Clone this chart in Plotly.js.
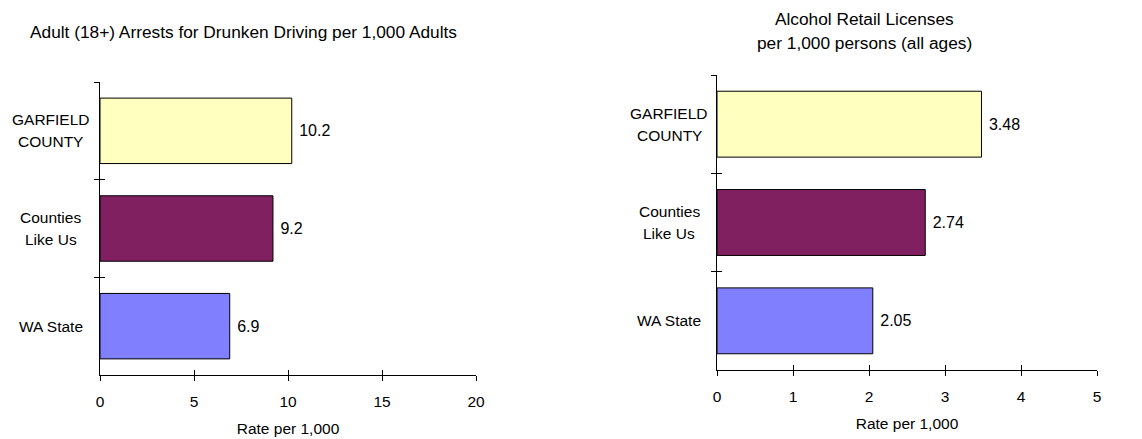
<!DOCTYPE html>
<html>
<head>
<meta charset="utf-8">
<script src="https://cdn.plot.ly/plotly-3.0.1.min.js"></script>
<style>html,body{margin:0;padding:0;background:#fff;}#chart{width:1142px;height:439px;}</style>
</head>
<body>
<div id="chart"></div>
<script>
// ---- data ----
const categories = ['GARFIELD COUNTY', 'Counties Like Us', 'WA State'];
const categoryLabels = [['GARFIELD', 'COUNTY'], ['Counties', 'Like Us'], ['WA State']];
const arrestRates = [10.2, 9.2, 6.9];
const licenseRates = [3.48, 2.74, 2.05];
const barColors = ['#FFFFC0', '#802060', '#8080FF'];
const leftTicks = [0, 5, 10, 15, 20];
const rightTicks = [0, 1, 2, 3, 4, 5];
const leftTitle = ['Adult (18+) Arrests for Drunken Driving per 1,000 Adults'];
const rightTitle = ['Alcohol Retail Licenses', 'per 1,000 persons (all ages)'];
const xTitleText = 'Rate per 1,000';

// ---- layout helpers ----
const W = 1142, H = 439;
const FONT = 'Liberation Sans, Arial, sans-serif';
const px = v => v / W;
const py = v => 1 - v / H;
const nCat = categories.length;
const boundaries = [];
for (let i = 0; i <= nCat; i++) boundaries.push(i - 0.5);

function barTrace(vals, xa, ya) {
  return {
    type: 'bar', orientation: 'h',
    x: vals, y: categories,
    xaxis: xa, yaxis: ya,
    marker: {color: barColors, line: {color: '#000', width: 1}},
    text: vals.map(v => '\u00a0' + String(v)),
    textposition: 'outside',
    textfont: {family: FONT, size: 16, color: '#000'},
    cliponaxis: false,
    hoverinfo: 'skip', showlegend: false
  };
}
function dummy(xa, ya) {
  return {type: 'scatter', x: [], y: [], xaxis: xa, yaxis: ya, showlegend: false, hoverinfo: 'skip'};
}

const data = [
  barTrace(arrestRates, 'x', 'y'),
  barTrace(licenseRates, 'x2', 'y2'),
  dummy('x3', 'y3'),
  dummy('x4', 'y4')
];

function xMain(domain, ticks, anchor) {
  return {
    domain: domain, anchor: anchor, range: [ticks[0], ticks[ticks.length - 1]],
    tickvals: ticks, ticktext: ticks.map(String),
    ticks: 'outside', ticklen: 5, tickcolor: '#000', tickwidth: 1,
    showline: true, linecolor: '#000', linewidth: 1,
    showgrid: false, zeroline: false, fixedrange: true,
    tickfont: {family: FONT, size: 15.5, color: '#000'},
    ticklabelstandoff: 7,
    title: {text: xTitleText, font: {family: FONT, size: 15.5, color: '#000'}, standoff: 14},
    automargin: false
  };
}
function xOverlay(over, ticks, anchor) {
  return {
    overlaying: over, anchor: anchor, range: [ticks[0], ticks[ticks.length - 1]],
    tickvals: ticks, ticks: 'inside', ticklen: 5, tickcolor: '#000', tickwidth: 1,
    showticklabels: false, showline: false, showgrid: false, zeroline: false, fixedrange: true
  };
}
function yMain(domain, anchor) {
  return {
    domain: domain, anchor: anchor, type: 'category',
    categoryorder: 'array', categoryarray: categories,
    range: [nCat - 0.5, -0.5],
    tickson: 'boundaries', ticks: 'outside', ticklen: 5, tickcolor: '#000', tickwidth: 1,
    showticklabels: false, showline: true, linecolor: '#000', linewidth: 1,
    showgrid: false, zeroline: false, fixedrange: true, automargin: false
  };
}
function yOverlay(over, anchor) {
  return {
    overlaying: over, anchor: anchor, range: [nCat - 0.5, -0.5],
    tickvals: boundaries, ticks: 'inside', ticklen: 5, tickcolor: '#000', tickwidth: 1,
    showticklabels: false, showline: false, showgrid: false, zeroline: false, fixedrange: true
  };
}

const leftX = [px(100), px(476)], leftY = [py(375), py(82)];
const rightX = [px(717), px(1097)], rightY = [py(370), py(75)];

const annotations = [];
function addLines(lines, xPix, yRef, yVal, gap, size) {
  const mid = (lines.length - 1) / 2;
  lines.forEach((t, i) => {
    annotations.push({
      text: t, showarrow: false,
      xref: 'paper', x: px(xPix), xanchor: 'center',
      yref: yRef, y: yVal, yanchor: 'middle',
      yshift: (mid - i) * gap,
      font: {family: FONT, size: size, color: '#000'}
    });
  });
}
categories.forEach((c, i) => {
  addLines(categoryLabels[i], 51, 'y', c, 22, 15.5);
  addLines(categoryLabels[i], 669, 'y2', c, 22, 15.5);
});
addLines(leftTitle, 243, 'paper', py(32), 24, 17.3);
addLines(rightTitle, 864, 'paper', py(31), 24, 17.3);

const layout = {
  width: W, height: H,
  margin: {l: 0, r: 0, t: 0, b: 0, pad: 0},
  paper_bgcolor: '#fff', plot_bgcolor: '#fff',
  bargap: 0.33,
  showlegend: false,
  font: {family: FONT, size: 15, color: '#000'},
  xaxis: xMain(leftX, leftTicks, 'y'),
  yaxis: yMain(leftY, 'x'),
  xaxis2: xMain(rightX, rightTicks, 'y2'),
  yaxis2: yMain(rightY, 'x2'),
  xaxis3: xOverlay('x', leftTicks, 'y3'),
  yaxis3: yOverlay('y', 'x3'),
  xaxis4: xOverlay('x2', rightTicks, 'y4'),
  yaxis4: yOverlay('y2', 'x4'),
  annotations: annotations
};
layout.xaxis3.anchor = 'y';
layout.xaxis4.anchor = 'y2';
layout.yaxis3.anchor = 'x';
layout.yaxis4.anchor = 'x2';

Plotly.newPlot('chart', data, layout, {displayModeBar: false, staticPlot: true});
</script>
</body>
</html>
